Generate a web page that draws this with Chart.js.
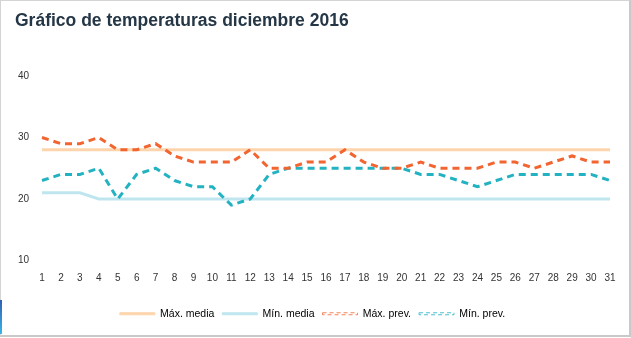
<!DOCTYPE html>
<html lang="es">
<head>
<meta charset="utf-8">
<title>Gráfico de temperaturas diciembre 2016</title>
<script src="https://cdn.jsdelivr.net/npm/chart.js@4"></script>
<style>
  html, body { margin: 0; padding: 0; background: #fff; }
  #marco {
    position: absolute; left: 0; top: 0;
    width: 628px; height: 334px;
    border: 1px solid #d4d4d4;
    border-right: 2px solid #c9c9c9;
    border-bottom: 2px solid #c9c9c9;
  }
  #marco canvas { display: block; }
  #tira {
    position: absolute; left: 0; top: 300px; width: 2px; height: 34px;
    background: linear-gradient(#2f5fb3, #3ab4ea);
  }
</style>
</head>
<body>
<div id="marco"><canvas id="temperaturasChart" width="628" height="334"></canvas></div>
<div id="tira"></div>
<script>
// Días del mes
const dias = ['1', '2', '3', '4', '5', '6', '7', '8', '9', '10', '11', '12', '13', '14', '15', '16',
  '17', '18', '19', '20', '21', '22', '23', '24', '25', '26', '27', '28', '29', '30', '31'];

// Medias históricas
const maxMedia = [28, 28, 28, 28, 28, 28, 28, 28, 28, 28, 28, 28, 28, 28, 28, 28,
  28, 28, 28, 28, 28, 28, 28, 28, 28, 28, 28, 28, 28, 28, 28];
const minMedia = [21, 21, 21, 20, 20, 20, 20, 20, 20, 20, 20, 20, 20, 20, 20, 20,
  20, 20, 20, 20, 20, 20, 20, 20, 20, 20, 20, 20, 20, 20, 20];

// Previsiones
const maxPrev = [30, 29, 29, 30, 28, 28, 29, 27, 26, 26, 26, 28, 25, 25, 26, 26,
  28, 26, 25, 25, 26, 25, 25, 25, 26, 26, 25, 26, 27, 26, 26];
const minPrev = [23, 24, 24, 25, 20, 24, 25, 23, 22, 22, 19, 20, 24, 25, 25, 25,
  25, 25, 25, 25, 24, 24, 23, 22, 23, 24, 24, 24, 24, 24, 23];

const yTicks = [10, 20, 30, 40];

const fuente = "'Liberation Sans', Arial, Helvetica, sans-serif";

const ctx = document.getElementById('temperaturasChart').getContext('2d');
const temperaturasChart = new Chart(ctx, {
  type: 'line',
  data: {
    labels: dias,
    datasets: [
      {
        label: 'Máx. media',
        data: maxMedia,
        borderColor: '#fdd4ac',
        backgroundColor: '#fdd4ac',
        borderWidth: 3,
        order: 1
      },
      {
        label: 'Mín. media',
        data: minMedia,
        borderColor: '#bfe6ef',
        backgroundColor: '#bfe6ef',
        borderWidth: 3,
        order: 1
      },
      {
        label: 'Máx. prev.',
        data: maxPrev,
        borderColor: '#f26430',
        backgroundColor: 'rgba(0,0,0,0)',
        borderWidth: 3,
        borderDash: [7, 5],
        order: 0
      },
      {
        label: 'Mín. prev.',
        data: minPrev,
        borderColor: '#22b2c1',
        backgroundColor: 'rgba(0,0,0,0)',
        borderWidth: 3,
        borderDash: [7, 5],
        order: 0
      }
    ]
  },
  options: {
    responsive: false,
    animation: false,
    devicePixelRatio: 1,
    layout: { padding: { left: 14, right: 19, top: 0, bottom: 6 } },
    elements: {
      point: { radius: 0, hoverRadius: 0 },
      line: { tension: 0, fill: false }
    },
    scales: {
      x: {
        grid: { display: false, drawTicks: false },
        border: { display: false },
        ticks: {
          autoSkip: false,
          maxRotation: 0,
          padding: 12,
          color: '#333',
          font: { family: fuente, size: 10 }
        },
        afterFit: scale => { scale.height = 40; }
      },
      y: {
        min: 10,
        max: 40,
        grid: { display: false, drawTicks: false },
        border: { display: false },
        afterBuildTicks: scale => { scale.ticks = yTicks.map(v => ({ value: v })); },
        ticks: {
          padding: 13,
          color: '#333',
          font: { family: fuente, size: 10 }
        },
        afterFit: scale => { scale.width = 27; }
      }
    },
    plugins: {
      title: {
        display: true,
        text: 'Gráfico de temperaturas diciembre 2016',
        align: 'start',
        color: '#253746',
        font: { family: fuente, size: 17.5, weight: 'bold' },
        padding: { top: 10, bottom: 44 }
      },
      legend: {
        position: 'bottom',
        labels: {
          boxWidth: 35,
          boxHeight: 2,
          padding: 8,
          color: '#444',
          font: { family: fuente, size: 10.5 },
          // líneas de la leyenda: continuas para medias, discontinuas finas para previsiones
          generateLabels: chart => chart.data.datasets.map((ds, i) => ({
            text: ds.label,
            datasetIndex: i,
            fillStyle: ds.backgroundColor,
            strokeStyle: ds.borderColor,
            lineWidth: ds.borderDash ? 0.8 : 1,
            lineDash: ds.borderDash ? [4, 3] : [],
            hidden: false
          }))
        }
      },
      tooltip: { enabled: false }
    }
  }
});
</script>
</body>
</html>
